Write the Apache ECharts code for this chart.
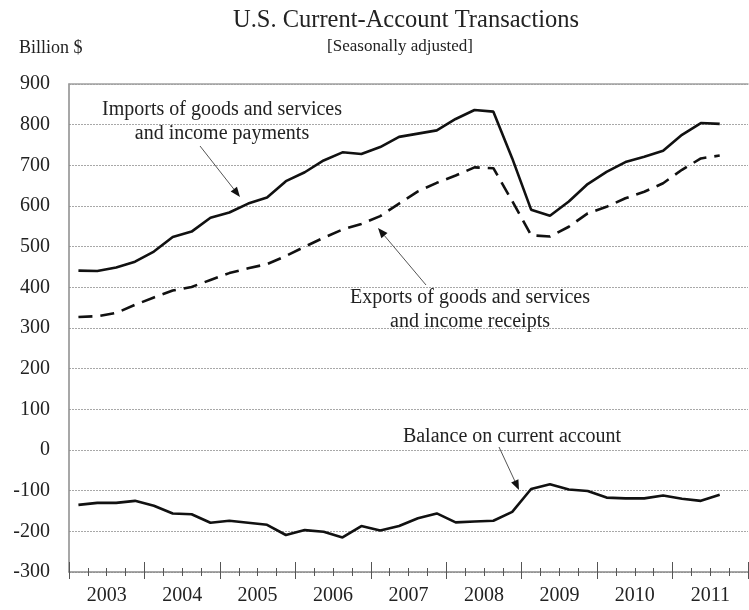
<!DOCTYPE html>
<html>
<head>
<meta charset="utf-8">
<script src="https://cdn.jsdelivr.net/npm/echarts@6/dist/echarts.min.js"></script>
<style>
html,body{margin:0;padding:0;background:#fff;}
#chart{width:749px;height:610px;}
</style>
</head>
<body>
<div id="chart"></div>
<script>
// ---- data ----
const quarters = [
  '2003Q1','2003Q2','2003Q3','2003Q4',
  '2004Q1','2004Q2','2004Q3','2004Q4',
  '2005Q1','2005Q2','2005Q3','2005Q4',
  '2006Q1','2006Q2','2006Q3','2006Q4',
  '2007Q1','2007Q2','2007Q3','2007Q4',
  '2008Q1','2008Q2','2008Q3','2008Q4',
  '2009Q1','2009Q2','2009Q3','2009Q4',
  '2010Q1','2010Q2','2010Q3','2010Q4',
  '2011Q1','2011Q2','2011Q3','2011Q4'
];
const years = ['2003','2004','2005','2006','2007','2008','2009','2010','2011'];
const imports = [441, 440, 449, 463, 488, 524, 537, 571, 584, 606, 621, 661, 683, 712, 732, 728, 745, 770, 778, 786, 814, 836, 832, 717, 591, 576, 611, 654, 684, 708, 721, 736, 775, 804, 802];
const exportsData = [327, 329, 337, 357, 375, 392, 401, 418, 435, 447, 457, 477, 500, 522, 542, 556, 575, 606, 636, 657, 675, 695, 693, 612, 528, 525, 549, 582, 598, 619, 635, 656, 689, 717, 724];
const balance = [-135, -130, -130, -125, -137, -156, -158, -179, -174, -179, -184, -209, -197, -201, -215, -187, -198, -187, -168, -156, -178, -176, -174, -152, -96, -84, -97, -101, -117, -119, -119, -112, -120, -125, -110];
const yTicks = {min: -300, max: 900, interval: 100};

// ---- chart ----
const FONT = "'Liberation Serif', 'Times New Roman', serif";
const TXT = '#222';
const gridRect = {left: 69, right: 1, top: 84, bottom: 38};
const chart = echarts.init(document.getElementById('chart'), null, {renderer: 'canvas'});

function hiddenY(i) {
  return {gridIndex: i, type: 'value', min: yTicks.min, max: yTicks.max, show: false};
}
const tickStyle = {color: '#555', width: 1};

const option = {
  animation: false,
  backgroundColor: '#fff',
  grid: [0, 1, 2, 3, 4].map(() => Object.assign({}, gridRect)),
  xAxis: [
    { gridIndex: 0, type: 'category', data: quarters, boundaryGap: true, position: 'bottom',
      axisLine: {show: true, onZero: false, lineStyle: {color: '#8a8a8a', width: 1.5}},
      axisTick: {show: true, interval: 0, inside: false, length: 4, lineStyle: tickStyle},
      axisLabel: {show: false}, splitLine: {show: false} },
    { gridIndex: 1, type: 'category', data: quarters, boundaryGap: true, position: 'bottom',
      axisLine: {show: false, onZero: false},
      axisTick: {show: true, interval: 0, inside: true, length: 4, lineStyle: tickStyle},
      axisLabel: {show: false}, splitLine: {show: false} },
    { gridIndex: 2, type: 'category', data: years, boundaryGap: true, position: 'bottom',
      axisLine: {show: false, onZero: false},
      axisTick: {show: true, interval: 0, inside: true, length: 10, lineStyle: tickStyle},
      axisLabel: {show: true, interval: 0, margin: 14, fontSize: 20, fontFamily: FONT, color: TXT},
      splitLine: {show: false} },
    { gridIndex: 3, type: 'category', data: years, boundaryGap: true, position: 'bottom',
      axisLine: {show: false, onZero: false},
      axisTick: {show: true, interval: 0, inside: false, length: 7, lineStyle: tickStyle},
      axisLabel: {show: false}, splitLine: {show: false} },
    { gridIndex: 4, type: 'category', data: years, boundaryGap: true, position: 'top',
      axisLine: {show: true, onZero: false, lineStyle: {color: '#a0a0a0', width: 1.5}},
      axisTick: {show: false}, axisLabel: {show: false}, splitLine: {show: false} }
  ],
  yAxis: [
    { gridIndex: 0, type: 'value', min: yTicks.min, max: yTicks.max, interval: yTicks.interval,
      axisLine: {show: true, onZero: false, lineStyle: {color: '#8a8a8a', width: 1.5}},
      axisTick: {show: false},
      axisLabel: {fontSize: 20, fontFamily: FONT, color: TXT, margin: 19},
      splitLine: {show: true, lineStyle: {color: '#a8a8a8', width: 1.2, type: [2, 1]}} },
    hiddenY(1), hiddenY(2), hiddenY(3), hiddenY(4)
  ],
  series: [
    { name: 'Imports of goods and services and income payments', type: 'line',
      xAxisIndex: 0, yAxisIndex: 0, data: imports, symbol: 'none',
      lineStyle: {color: '#111', width: 2.6}, z: 5 },
    { name: 'Exports of goods and services and income receipts', type: 'line',
      xAxisIndex: 0, yAxisIndex: 0, data: exportsData, symbol: 'none',
      lineStyle: {color: '#111', width: 2.6, type: [14, 8]}, z: 5 },
    { name: 'Balance on current account', type: 'line',
      xAxisIndex: 0, yAxisIndex: 0, data: balance, symbol: 'none',
      lineStyle: {color: '#111', width: 2.6}, z: 5 }
  ],
  graphic: []
};

function txt(x, y, text, size, align) {
  return {type: 'text', x: x, y: y, z: 10,
    style: {text: text, fill: TXT, font: size + 'px ' + FONT, textAlign: align || 'center',
            textVerticalAlign: 'middle', lineHeight: Math.round(size * 1.2)}};
}
function arrow(x1, y1, x2, y2) {
  const ang = Math.atan2(y2 - y1, x2 - x1);
  const L = 10, W = 4;
  const bx = x2 - L * Math.cos(ang), by = y2 - L * Math.sin(ang);
  const px = -Math.sin(ang) * W, py = Math.cos(ang) * W;
  return [
    {type: 'line', z: 10, shape: {x1: x1, y1: y1, x2: bx, y2: by}, style: {stroke: '#555', lineWidth: 1}},
    {type: 'polygon', z: 10, shape: {points: [[x2, y2], [bx + px, by + py], [bx - px, by - py]]}, style: {fill: '#111'}}
  ];
}

option.graphic = [
  txt(406, 21, 'U.S. Current-Account Transactions', 24.5),
  txt(400, 47, '[Seasonally adjusted]', 17),
  txt(19, 48, 'Billion $', 18, 'left'),
  txt(222, 122, 'Imports of goods and services\nand income payments', 20),
  txt(470, 310, 'Exports of goods and services\nand income receipts', 20),
  txt(512, 437, 'Balance on current account', 20)
].concat(arrow(200, 146, 240, 197), arrow(426, 285, 378, 228), arrow(499, 447, 519, 490));

chart.setOption(option);
</script>
</body>
</html>
